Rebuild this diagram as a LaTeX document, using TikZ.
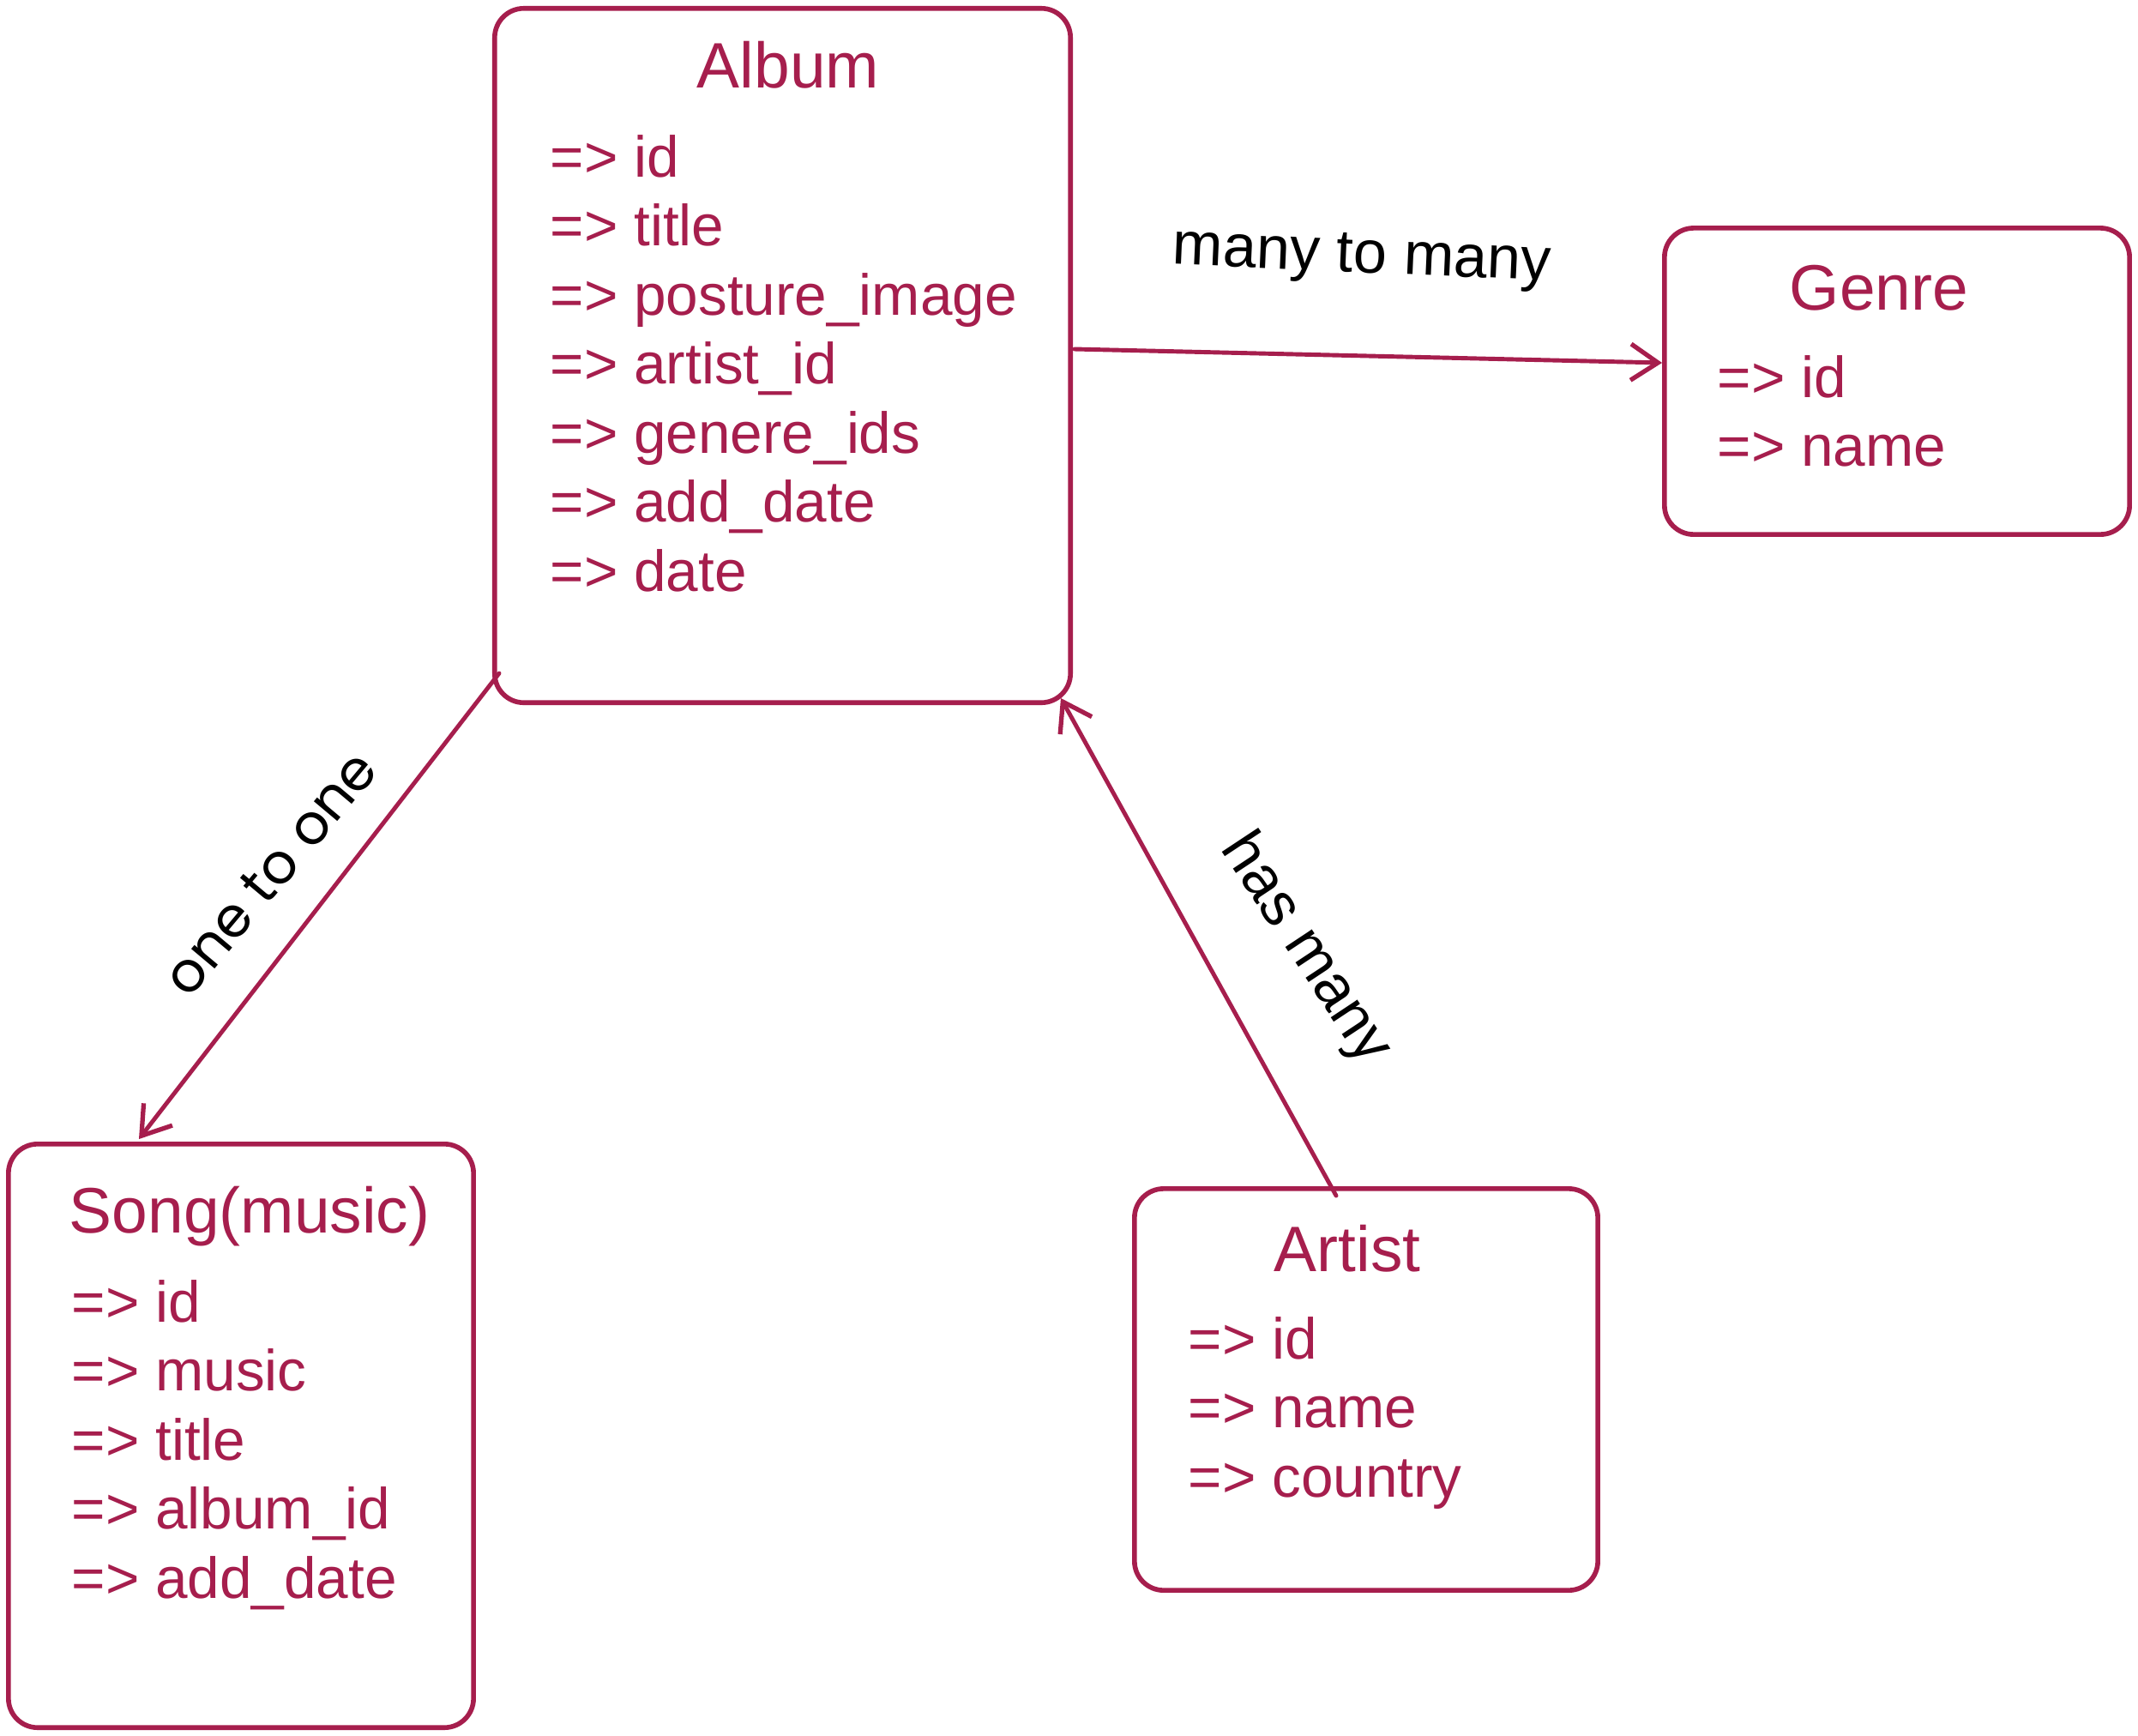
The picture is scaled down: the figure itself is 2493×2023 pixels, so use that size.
\documentclass[tikz,border=0pt]{standalone}
\usepackage{fontspec}
\setmainfont{Liberation Sans}
\newfontfamily\geofont{Poppins}
\usetikzlibrary{arrows.meta}
\definecolor{ink}{RGB}{166,30,77}
\tikzset{
  entity/.style={draw=ink, line width=1.6pt, rounded corners=0.34cm, inner sep=0pt, outer sep=0pt},
  etitle/.style={text=ink, anchor=base, inner sep=0pt, font=\fontsize{21.3}{25}\selectfont},
  item/.style={text=ink, anchor=base west, inner sep=0pt, font=\fontsize{19.2}{23}\selectfont},
  rel/.style={draw=ink, line width=1.4pt, line cap=round, -{Straight Barb[length=9pt,width=12pt,line width=1.5pt]}},
  rlabel/.style={text=black, inner sep=0pt, font=\fontsize{20}{24}\selectfont}
}
\begin{document}
\begin{tikzpicture}[x=0.01cm, y=-0.01cm]
\useasboundingbox (0,0) rectangle (2493,2023);
\fill[white] (0,0) rectangle (2493,2023);

% Album
\node[entity, minimum width=6.71cm, minimum height=8.09cm] (album) at (912.5,414.5) {};
\node[etitle] (albumT) at (919,102) {Album};
\node[item] (al1) at (641,206) {=> id};
\node[item] (al2) at (641,286.5) {=> title};
\node[item] (al3) at (641,367) {=> posture\_image};
\node[item] (al4) at (641,447.5) {=> artist\_id};
\node[item] (al5) at (641,528) {=> genere\_ids};
\node[item] (al6) at (641,608.5) {=> add\_date};
\node[item] (al7) at (641,689) {=> date};

% Genre
\node[entity, minimum width=5.42cm, minimum height=3.57cm] (genre) at (2212,444.5) {};
\node[etitle] (genreT) at (2191,361) {Genre};
\node[item] (ge1) at (2002,463) {=> id};
\node[item] (ge2) at (2002,543.5) {=> name};

% Song
\node[entity, minimum width=5.42cm, minimum height=6.80cm] (song) at (281,1674) {};
\node[etitle] (songT) at (291,1437) {Song(music)};
\node[item] (so1) at (83,1541) {=> id};
\node[item] (so2) at (83,1621.5) {=> music};
\node[item] (so3) at (83,1702) {=> title};
\node[item] (so4) at (83,1782.5) {=> album\_id};
\node[item] (so5) at (83,1863) {=> add\_date};

% Artist
\node[entity, minimum width=5.40cm, minimum height=4.68cm] (artist) at (1593,1620) {};
\node[etitle] (artistT) at (1571,1482) {Artist};
\node[item] (ar1) at (1385,1584) {=> id};
\node[item] (ar2) at (1385,1664.5) {=> name};
\node[item] (ar3) at (1385,1745) {=> country};

% connector end points
\coordinate (albumToGenre) at (1253,407);
\coordinate (genreIn) at (1938,423);
\coordinate (albumToSong) at (582,785);
\coordinate (songIn) at (162,1328);
\coordinate (artistOut) at (1558,1394);
\coordinate (albumIn) at (1237,814);

\draw[rel] (albumToGenre) -- (genreIn);
\draw[rel] (albumToSong) -- (songIn);
\draw[rel] (artistOut) -- (albumIn);

% labels
\node[rlabel, rotate=-2.5] (lmm) at (1588,302) {many to many};
\node[rlabel, rotate=50, font=\geofont\fontsize{18.5}{22}\selectfont] (loo) at (315,1018) {one to one};
\node[rlabel, rotate=-56.5] (lhm) at (1522,1107) {has many};
\end{tikzpicture}
\end{document}
